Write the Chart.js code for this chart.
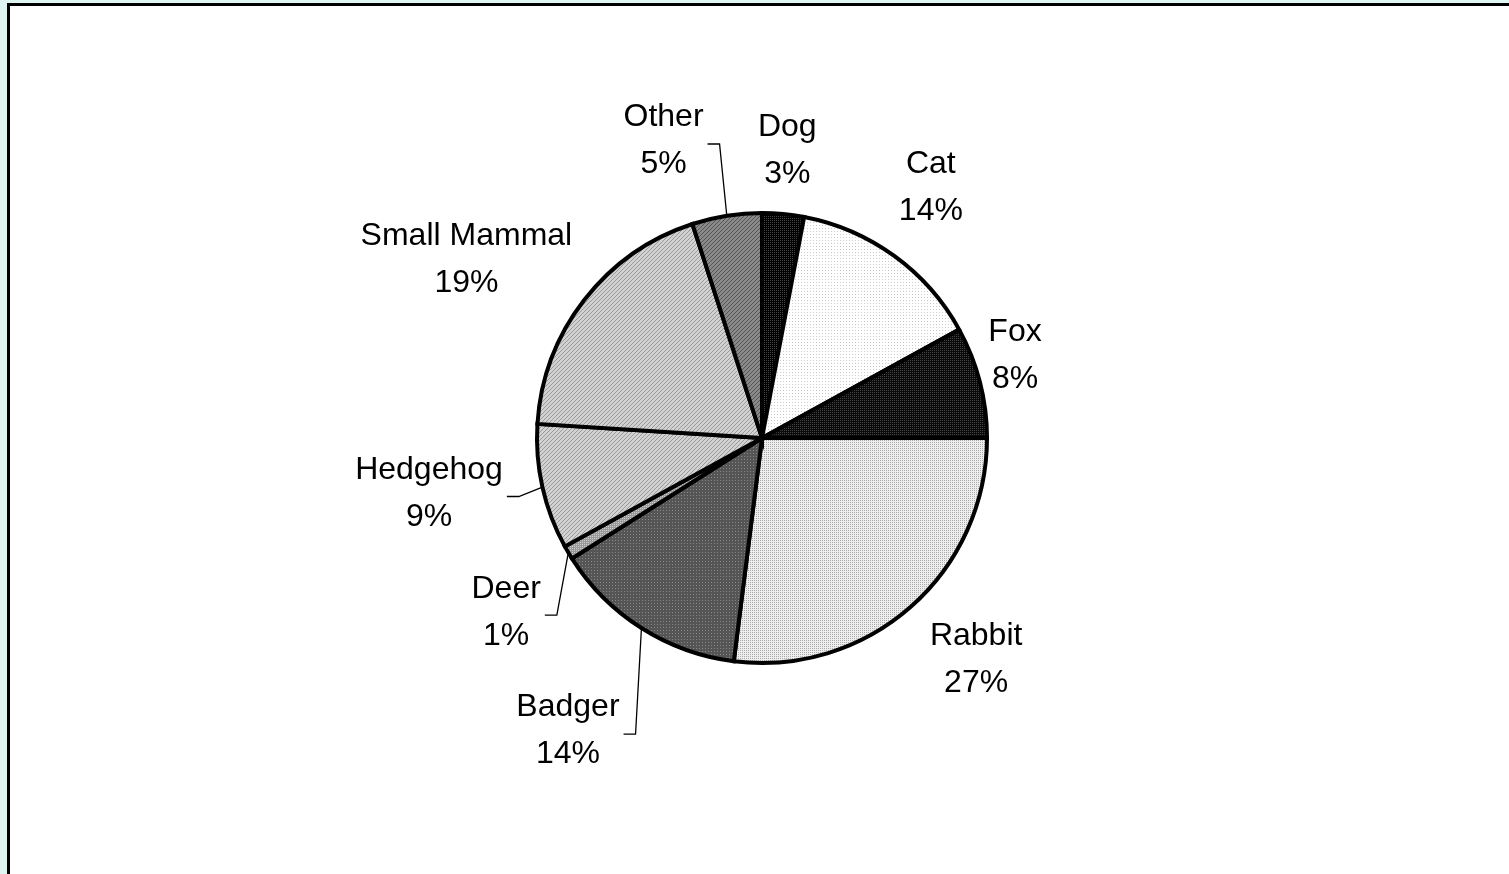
<!DOCTYPE html>
<html>
<head>
<meta charset="utf-8">
<title>Animal casualties</title>
<script src="https://cdn.jsdelivr.net/npm/chart.js@4.4.0/dist/chart.umd.min.js"></script>
<style>
  html, body { margin: 0; padding: 0; background: #dff5f2; overflow: hidden; }
  #frame {
    position: absolute; left: 7px; top: 3px; width: 1600px; height: 1000px;
    background: #fff; border-left: 3px solid #000; border-top: 3px solid #000;
  }
  #wrap { position: absolute; left: 0; top: 0; width: 1509px; height: 874px; }
</style>
</head>
<body>
<div id="frame"></div>
<div id="wrap"><canvas id="pie"></canvas></div>
<script>
const animals = ['Dog', 'Cat', 'Fox', 'Rabbit', 'Badger', 'Deer', 'Hedgehog', 'Small Mammal', 'Other'];
const shares = [3, 14, 8, 27, 14, 1, 9, 19, 5];

// labels that sit away from their slice and get a leader line
const leaders = ['Other', 'Hedgehog', 'Deer', 'Badger'];
// small hand tweaks to the automatic label spot, px
const labelNudge = {
  'Dog': [-2, 2], 'Cat': [-6, -10], 'Fox': [-9, -15], 'Rabbit': [12, -8],
  'Badger': [-34, 41], 'Deer': [-12, 30], 'Hedgehog': [-22, -14],
  'Small Mammal': [-43, 18], 'Other': [-53, -10]
};

const LINE_H = 47;
const GAP = 18;

// old-style pattern fills
function texture(bg, fg, kind, step) {
  const c = document.createElement('canvas');
  c.width = c.height = step;
  const g = c.getContext('2d');
  g.fillStyle = bg;
  g.fillRect(0, 0, step, step);
  g.fillStyle = fg;
  if (kind === 'dots') {
    g.fillRect(0, 0, 1, 1);
  } else {
    for (let i = 0; i < step; i++) g.fillRect(i, step - 1 - i, 1, 1);
  }
  return g.createPattern(c, 'repeat');
}

const fills = [
  texture('#000', '#444', 'dots', 2),
  texture('#fff', '#ccc', 'dots', 3),
  texture('#0a0a0a', '#444', 'dots', 2),
  texture('#eee', '#aaa', 'dots', 2),
  texture('#555', '#888', 'dots', 3),
  texture('#999', '#ccc', 'dots', 2),
  texture('#d2d2d2', '#999', 'diag', 4),
  texture('#d2d2d2', '#999', 'diag', 4),
  texture('#8a8a8a', '#555', 'diag', 4)
];

const callouts = {
  id: 'callouts',
  afterDatasetsDraw(chart) {
    const ctx = chart.ctx;
    const meta = chart.getDatasetMeta(0);
    ctx.save();
    ctx.font = '32px "Liberation Sans", Arial, sans-serif';
    ctx.textAlign = 'center';
    ctx.textBaseline = 'middle';
    ctx.fillStyle = '#000';
    ctx.strokeStyle = '#000';
    meta.data.forEach((arc, i) => {
      const p = arc.getProps(['x', 'y', 'startAngle', 'endAngle', 'outerRadius'], true);
      const mid = (p.startAngle + p.endAngle) / 2;
      const ux = Math.cos(mid), uy = Math.sin(mid);
      const lines = [animals[i], shares[i] + '%'];
      const halfW = Math.max(...lines.map(t => ctx.measureText(t).width)) / 2;
      const k = Math.min(halfW / Math.max(Math.abs(ux), 1e-6), LINE_H / Math.max(Math.abs(uy), 1e-6));
      const d = p.outerRadius + GAP + k;
      const n = labelNudge[animals[i]] || [0, 0];
      const cx = p.x + ux * d + n[0];
      const cy = p.y + uy * d + n[1];
      ctx.fillText(lines[0], cx, cy - LINE_H / 2);
      ctx.fillText(lines[1], cx, cy + LINE_H / 2);

      if (leaders.includes(animals[i])) {
        const ex = p.x + ux * p.outerRadius, ey = p.y + uy * p.outerRadius;
        const sx = cx + halfW + 4, sy = cy + 3;
        ctx.beginPath();
        ctx.lineWidth = 1.3;
        ctx.moveTo(sx, sy);
        ctx.lineTo(sx + 12, sy);
        ctx.lineTo(ex, ey);
        ctx.stroke();
      }
    });
    ctx.restore();
  }
};

new Chart(document.getElementById('pie'), {
  type: 'pie',
  data: {
    labels: animals,
    datasets: [{
      data: shares,
      backgroundColor: fills,
      borderColor: '#000',
      borderWidth: 4,
      borderJoinStyle: 'miter'
    }]
  },
  options: {
    responsive: true,
    maintainAspectRatio: false,
    animation: false,
    events: [],
    layout: { padding: { left: 535, top: 211, right: 520, bottom: 209 } },
    plugins: {
      legend: { display: false },
      tooltip: { enabled: false }
    }
  },
  plugins: [callouts]
});
</script>
</body>
</html>
